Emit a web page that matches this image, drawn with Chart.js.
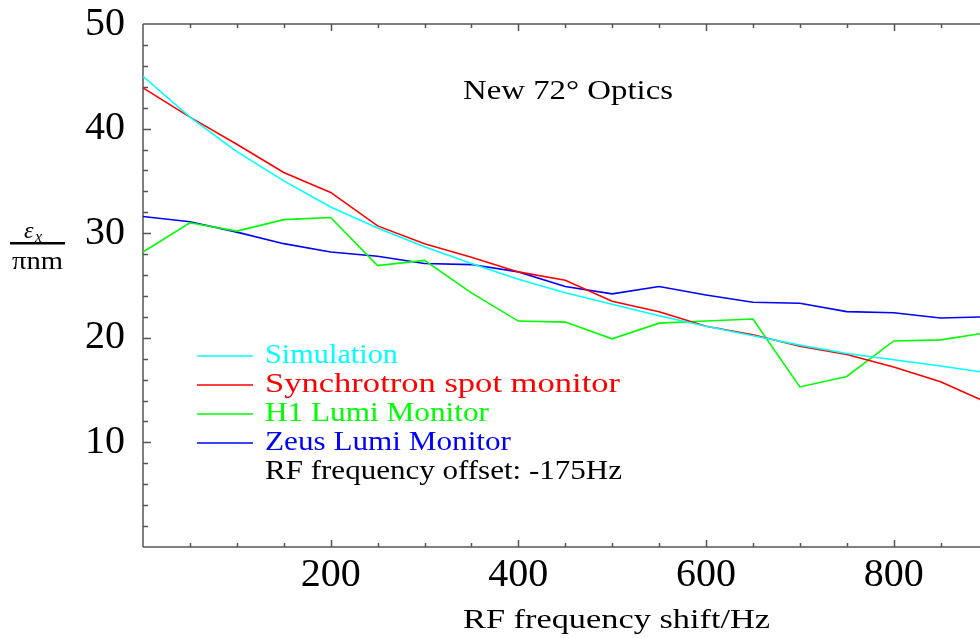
<!DOCTYPE html>
<html>
<head>
<meta charset="utf-8">
<script src="https://cdn.jsdelivr.net/npm/chart.js@4.4.1/dist/chart.umd.min.js"></script>
<style>
html,body{margin:0;padding:0;background:#fff;}
canvas{display:block;}
</style>
</head>
<body>
<canvas id="c" width="980" height="638"></canvas>
<script>
// ---- data ----
const freqShift = [0,50,100,150,200,250,300,350,400,450,500,550,600,650,700,750,800,850,900];
const simulation = [45.0,41.1,37.8,35.0,32.5,30.5,28.7,27.1,25.6,24.3,23.2,22.1,21.1,20.2,19.3,18.5,17.9,17.3,16.65];
const synchrotron = [43.9,41.1,38.5,35.8,33.9,30.7,29.0,27.7,26.3,25.5,23.5,22.5,21.1,20.3,19.2,18.4,17.2,15.8,13.8];
const h1Lumi = [28.2,31.0,30.2,31.3,31.5,26.9,27.4,24.3,21.6,21.5,19.9,21.4,21.6,21.8,15.3,16.3,19.7,19.8,20.5];
const zeusLumi = [31.6,31.1,30.1,29.0,28.2,27.8,27.1,27.0,26.3,24.9,24.2,24.9,24.1,23.4,23.3,22.5,22.4,21.9,22.0];
const seriesNames = ["Simulation","Synchrotron spot monitor","H1 Lumi Monitor","Zeus Lumi Monitor"];
const seriesColors = ["#00ffff","#ff0000","#00ff00","#0000ff"];
const noteText = "RF frequency offset: -175Hz";
const titleText = "New 72\u00B0 Optics";
const xTitle = "RF frequency shift/Hz";
const xTickLabels = [200,400,600,800];
const yTickLabels = [10,20,30,40,50];

const SERIF = '"Liberation Serif", "DejaVu Serif", serif';

function pts(ys){ return freqShift.map((x,i)=>({x:x,y:ys[i]})); }
const allSeries = [simulation, synchrotron, h1Lumi, zeusLumi];

// draw text stretched horizontally so it spans `width` px, starting at x
function fitText(ctx, txt, x, y, width){
  const w = ctx.measureText(txt).width;
  ctx.save();
  ctx.translate(x, y);
  ctx.scale(width / w, 1);
  ctx.textAlign = 'left';
  ctx.fillText(txt, 0, 0);
  ctx.restore();
}

const decor = {
  id:'decor',
  beforeDatasetsDraw(chart){
    const {ctx, chartArea:a, scales:{x,y}} = chart;
    ctx.save();
    ctx.strokeStyle = '#555';
    ctx.lineWidth = 1.5;
    ctx.beginPath();
    ctx.moveTo(a.left, a.top); ctx.lineTo(a.left, a.bottom);
    ctx.moveTo(a.left, a.top); ctx.lineTo(a.right+2, a.top);
    ctx.moveTo(a.left, a.bottom); ctx.lineTo(a.right+2, a.bottom);
    for(let v=2; v<50; v+=2){
      const py = Math.round(y.getPixelForValue(v))+0.5;
      const len = (v%10===0)?8:5;
      ctx.moveTo(a.left, py); ctx.lineTo(a.left+len, py);
    }
    for(let v=50; v<=x.max; v+=50){
      const px = Math.round(x.getPixelForValue(v))+0.5;
      const len = (v%200===0)?7:4;
      ctx.moveTo(px, a.bottom); ctx.lineTo(px, a.bottom-len);
      ctx.moveTo(px, a.top); ctx.lineTo(px, a.top+len);
    }
    ctx.stroke();
    ctx.restore();
  },
  afterDraw(chart){
    const {ctx} = chart;
    ctx.save();
    ctx.fillStyle = '#000';
    ctx.textBaseline = 'middle';
    ctx.font = '28px ' + SERIF;
    fitText(ctx, titleText, 463, 92, 210);
    fitText(ctx, xTitle, 463, 621, 307);
    // y label fraction
    ctx.font = 'italic 24px ' + SERIF;
    ctx.textAlign = 'left';
    ctx.fillText('\u03B5', 24, 232);
    ctx.font = 'italic 16px ' + SERIF;
    ctx.fillText('x', 35, 238);
    ctx.fillRect(10, 242, 55, 2.5);
    ctx.font = '26px ' + SERIF;
    fitText(ctx, '\u03C0nm', 12, 262, 51);
    // legend
    ctx.font = '27px ' + SERIF;
    const rowY = [356, 385, 414, 443];
    const rowW = [133, 355, 224, 246];
    seriesNames.forEach((n,i)=>{
      ctx.strokeStyle = seriesColors[i];
      ctx.lineWidth = 1.5;
      ctx.beginPath();
      ctx.moveTo(197, rowY[i]); ctx.lineTo(253, rowY[i]);
      ctx.stroke();
      ctx.fillStyle = seriesColors[i];
      fitText(ctx, n, 265, rowY[i], rowW[i]);
    });
    ctx.fillStyle = '#000';
    fitText(ctx, noteText, 265, 472, 357);
    ctx.restore();
  }
};

new Chart(document.getElementById('c'), {
  type:'line',
  data:{
    datasets: allSeries.map((s,i)=>({
      label: seriesNames[i],
      data: pts(s),
      borderColor: seriesColors[i],
      backgroundColor: seriesColors[i],
      borderWidth: 1.6,
      pointRadius: 0,
      tension: 0,
      fill: false
    }))
  },
  options:{
    responsive:false,
    animation:false,
    devicePixelRatio:1,
    layout:{padding:{top:24,right:0,left:0,bottom:0}},
    plugins:{legend:{display:false}, title:{display:false}, tooltip:{enabled:false}},
    scales:{
      x:{
        type:'linear', min:0, max:892, position:'bottom',
        grid:{display:false}, border:{display:false},
        ticks:{
          stepSize:200, includeBounds:false, maxRotation:0, autoSkip:false,
          padding:-4, color:'#000',
          font:{family:SERIF, size:40},
          callback:(v)=> xTickLabels.includes(v) ? String(v) : ''
        },
        afterFit:(s)=>{ s.height = 91; s.paddingLeft = 0; s.paddingRight = 0; }
      },
      y:{
        type:'linear', min:0, max:50,
        grid:{display:false}, border:{display:false},
        ticks:{
          stepSize:10, padding:10, color:'#000',
          font:{family:SERIF, size:40},
          callback:(v)=> yTickLabels.includes(v) ? String(v) : ''
        },
        afterFit:(s)=>{ s.width = 143; s.paddingTop = 0; s.paddingBottom = 0; }
      }
    }
  },
  plugins:[decor]
});
</script>
</body>
</html>
